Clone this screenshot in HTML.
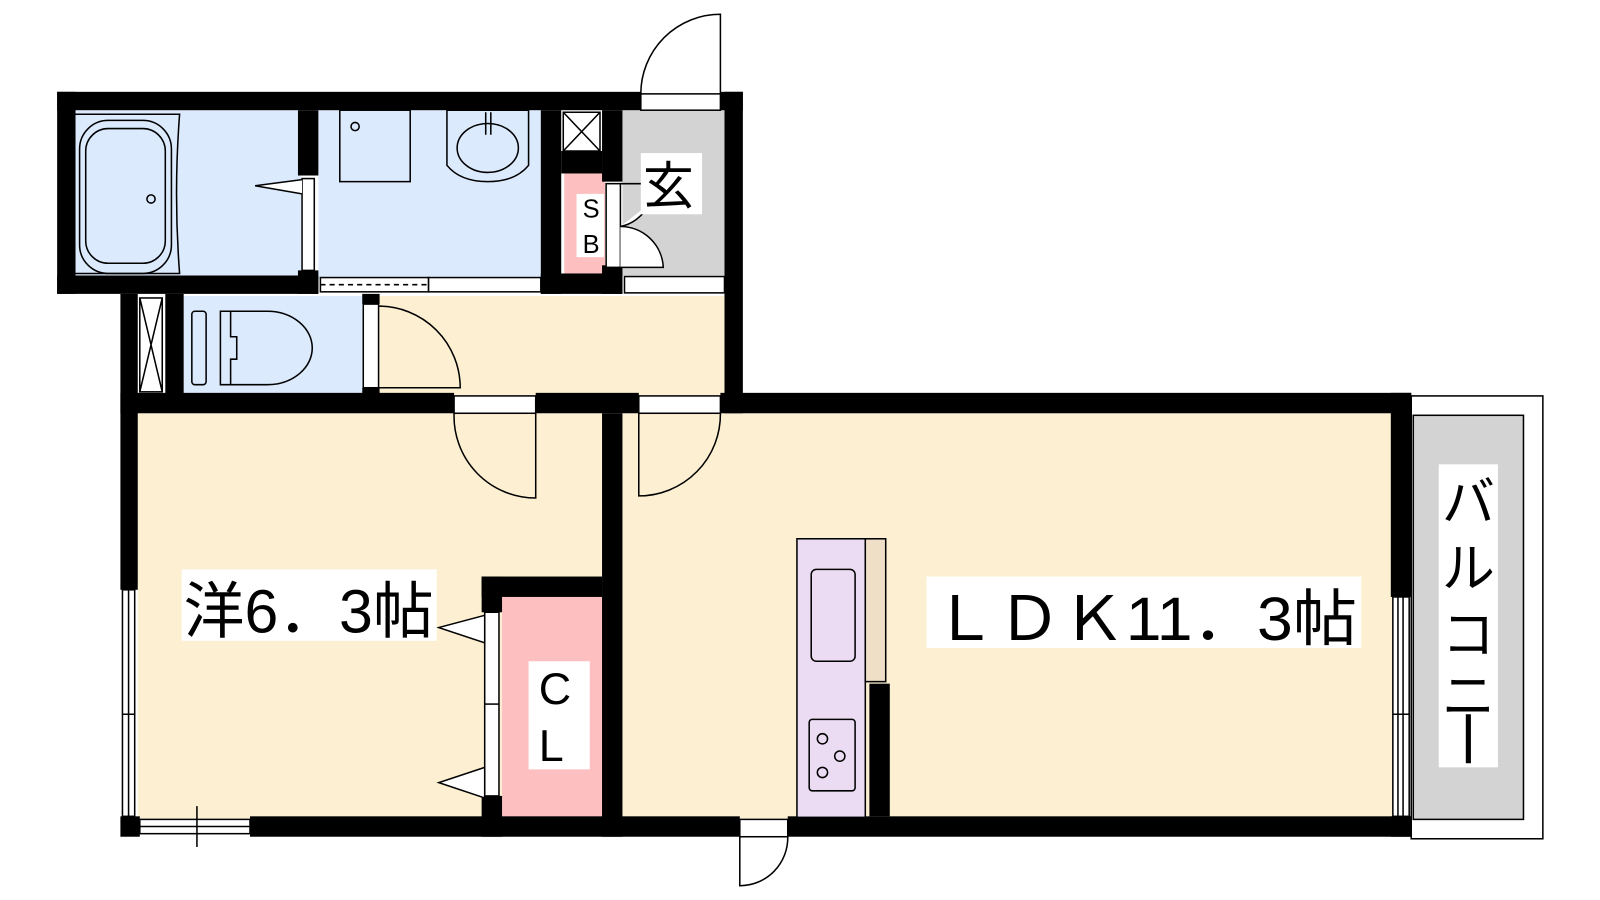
<!DOCTYPE html>
<html><head><meta charset="utf-8"><style>
html,body{margin:0;padding:0;background:#fff;width:1600px;height:900px;overflow:hidden}
svg{display:block}
text{font-family:"Liberation Sans","Noto Sans CJK JP",sans-serif}
</style></head><body>
<svg width="1600" height="900" viewBox="0 0 1568 882" preserveAspectRatio="none" xmlns="http://www.w3.org/2000/svg">
<!-- fills -->
<rect x="70" y="108" width="225" height="165" fill="#dbeafd"/>
<rect x="312" y="108" width="220" height="165" fill="#dbeafd"/>
<rect x="553" y="170" width="40" height="100" fill="#fdbfbf"/>
<rect x="610" y="108" width="100" height="162" fill="#d3d3d3"/>
<rect x="180" y="290" width="175" height="97" fill="#dbeafd"/>
<rect x="372" y="290" width="338" height="97" fill="#fdf0d2"/>
<rect x="135" y="405" width="455" height="397" fill="#fdf0d2"/>
<rect x="610" y="405" width="755" height="397" fill="#fdf0d2"/>
<rect x="492" y="585" width="98" height="217" fill="#fdbfbf"/>
<!-- walls -->
<g fill="#000">
<rect x="56" y="90" width="572" height="18"/>
<rect x="706" y="90" width="22" height="18"/>
<rect x="56" y="90" width="18" height="198"/>
<rect x="710" y="90" width="18" height="315"/>
<rect x="56" y="270" width="256" height="18"/>
<rect x="292" y="108" width="20" height="64"/>
<rect x="292" y="265" width="20" height="23"/>
<rect x="530" y="108" width="20" height="180"/>
<rect x="530" y="268" width="80" height="20"/>
<rect x="590" y="108" width="20" height="70"/>
<rect x="590" y="260" width="20" height="28"/>
<rect x="550" y="148" width="40" height="22"/>
<rect x="118" y="288" width="17" height="290"/>
<rect x="162" y="288" width="18" height="100"/>
<rect x="355" y="288" width="17" height="10"/>
<rect x="355" y="380" width="17" height="10"/>
<rect x="118" y="385" width="327" height="20"/>
<rect x="525" y="385" width="101" height="20"/>
<rect x="706" y="385" width="677" height="20"/>
<rect x="590" y="405" width="20" height="415"/>
<rect x="472" y="565" width="118" height="20"/>
<rect x="472" y="565" width="20" height="35"/>
<rect x="472" y="780" width="20" height="40"/>
<rect x="118" y="800" width="19" height="20"/>
<rect x="245" y="800" width="480" height="20"/>
<rect x="772" y="800" width="611" height="20"/>
<rect x="1363" y="385" width="20" height="200"/>
<rect x="1363" y="800" width="20" height="20"/>
<rect x="852" y="670" width="20" height="130"/>
</g>
<g fill="none" stroke="#000" stroke-width="1.5">
<path d="M72 112 H176 Q170 190 176 268 H72"/>
<rect x="78" y="118" width="90" height="150" rx="28"/>
<rect x="84" y="126" width="78" height="132" rx="22"/>
<circle cx="148" cy="195" r="4"/>
<rect x="296" y="175" width="12" height="90" fill="#fff"/>
<path d="M296 176 L250 182 L296 190" fill="#fff"/>
<rect x="333" y="108" width="69" height="70"/>
<circle cx="348" cy="124" r="4"/>
<path d="M438 108 H518 V162 Q505 178 478 178 Q451 178 438 162 Z"/>
<ellipse cx="478" cy="145" rx="30" ry="24"/>
<path d="M476 110 V132 M481 110 V132"/>
<rect x="314" y="272" width="106" height="14" fill="#fff"/>
<path d="M314 279 H420" stroke-dasharray="5 4"/>
<rect x="420" y="272" width="110" height="14" fill="#fff"/>
<rect x="612" y="271" width="98" height="16" fill="#fff"/>
<rect x="552" y="110" width="36" height="38" fill="#fff"/>
<path d="M552 110 L588 148 M588 110 L552 148"/>
<rect x="594" y="180" width="14" height="82" fill="#fff"/>
<path d="M608 180 H640 M608 222 A40 40 0 0 0 636 200 M608 222 A42 42 0 0 1 650 262 H608" fill="#fff"/>
<rect x="628" y="92" width="78" height="16" fill="#fff"/>
<path d="M706 92 V14 A78 78 0 0 0 628 92"/>
<rect x="137" y="292" width="22" height="92" fill="#fff"/>
<path d="M137 292 L159 384 M159 292 L137 384"/>
<rect x="188" y="305" width="14" height="72" rx="3"/>
<path d="M216 305 H262 A44 36 0 0 1 262 377 H216 Z"/>
<path d="M226 305 V330 H232 V352 H226 V377"/>
<rect x="356" y="298" width="15" height="82" fill="#fff"/>
<path d="M371 300 A80 80 0 0 1 451 380 H371"/>
<rect x="445" y="388" width="80" height="17" fill="#fff"/>
<path d="M525 405 V488 A80 80 0 0 1 445 405"/>
<rect x="626" y="388" width="80" height="17" fill="#fff"/>
<path d="M626 405 V486 A80 80 0 0 0 706 405"/>
<rect x="120" y="578" width="12" height="222" fill="#fff"/>
<path d="M126 578 V800 M120 700 H132 M126 690 V712"/>
<rect x="137" y="803" width="108" height="14" fill="#fff"/>
<path d="M137 810 H245 M193 790 V830"/>
<rect x="475" y="600" width="14" height="180" fill="#fff"/>
<path d="M475 690 H489"/>
<path d="M475 603 L430 615 L475 630 Z M475 752 L430 767 L475 782 Z" fill="#fff"/>
<rect x="781" y="528" width="67" height="273" fill="#ecdcf3"/>
<rect x="848" y="528" width="20" height="140" fill="#efdfc7"/>
<rect x="795" y="558" width="43" height="90" rx="5"/>
<rect x="793" y="705" width="45" height="70" rx="3"/>
<circle cx="806" cy="724" r="5"/><circle cx="823" cy="741" r="5"/><circle cx="806" cy="757" r="5"/>
<rect x="725" y="803" width="47" height="17" fill="#fff"/>
<path d="M725 820 V868 A47 47 0 0 0 772 820"/>
<rect x="1365" y="585" width="16" height="215" fill="#fff"/>
<path d="M1370 585 V800 M1375 585 V800 M1365 700 H1381"/>
<rect x="1383" y="388" width="129" height="434" stroke-width="1.5"/>
<rect x="1385" y="407" width="108" height="396" fill="#d3d3d3"/>
</g>
<rect x="565" y="190" width="27" height="62" fill="#fff"/>
<text x="571" y="213" font-size="25">S</text>
<text x="571" y="248" font-size="25">B</text>
<rect x="628" y="150" width="60" height="60" fill="#fff"/>
<text x="630" y="200" font-size="50" font-family="Noto Sans CJK JP">玄</text>
<rect x="178" y="558" width="250" height="70" fill="#fff"/>
<text x="180" y="620" font-size="60" textLength="245" lengthAdjust="spacingAndGlyphs">洋6．3帖</text>
<rect x="518" y="648" width="60" height="106" fill="#fff"/>
<text x="528" y="690" font-size="44">C</text>
<text x="528" y="746" font-size="44">L</text>
<rect x="908" y="565" width="426" height="70" fill="#fff"/>
<text x="914" y="627" font-size="60" textLength="416" lengthAdjust="spacingAndGlyphs">ＬＤＫ11．3帖</text>
<rect x="1410" y="455" width="58" height="297" fill="#fff"/>
<g font-size="52" text-anchor="middle">
<text x="1439" y="510">バ</text>
<text x="1439" y="575">ル</text>
<text x="1439" y="640">コ</text>
<text x="1439" y="700">ニ</text>
</g>
<path d="M1439 700 V748" stroke="#000" stroke-width="5"/>
</svg>
</body></html>
